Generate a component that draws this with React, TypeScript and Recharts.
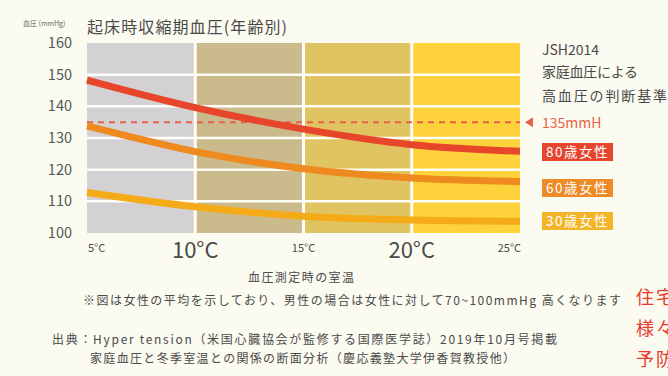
import { ComposedChart, Line, XAxis, YAxis, ReferenceArea, ReferenceLine } from "recharts";

const temps = [5, 10, 15, 20, 25];
const women80 = [148.3, 139.6, 132.8, 127.9, 125.8];
const women60 = [133.8, 125.7, 120.3, 117.4, 116.3];
const women30 = [112.8, 108.3, 105.3, 104.1, 103.7];
const yTicks = [100, 110, 120, 130, 140, 150, 160];
const gridValues = [110, 120, 130, 140, 150];
const bandEdges = [5, 10, 15, 20, 25];
const bandColors = ["#d3d1d3", "#cbbb8c", "#e0c462", "#fdd23b"];
const bigTemps = [10, 20];
const threshold = 135;
const seriesKeys = ["w80", "w60", "w30"];
const legendLabels = ["80歳女性", "60歳女性", "30歳女性"];
const lineColors = ["#e8462b", "#ef8a1f", "#f5ab17"];
const legendColors = ["#e5452d", "#ee8b27", "#f4b427"];

const data = temps.map((t, i) => ({ temp: t, w80: women80[i], w60: women60[i], w30: women30[i] }));

const FONT = "'Noto Sans CJK JP', 'Noto Sans', sans-serif";
const BG = "#fcfbf1";
const TEXT = "#4a4a4a";

function TempTick(props: any) {
  const { x, y, payload } = props;
  const v = payload.value;
  const big = bigTemps.includes(v);
  let anchor = "middle";
  if (v === temps[0]) anchor = "start";
  if (v === temps[temps.length - 1]) anchor = "end";
  return (
    <text
      x={anchor === "middle" ? x : x + 1}
      y={big ? y + 25 : y + 19}
      textAnchor={anchor}
      fontSize={big ? 22 : 11}
      fontFamily={FONT}
      fill={TEXT}
    >
      {v}°C
    </text>
  );
}

function ThresholdLabel(props: any) {
  const { viewBox } = props;
  const x = viewBox.x + viewBox.width;
  const y = viewBox.y;
  return (
    <g>
      <path d={`M ${x + 5} ${y} L ${x + 13} ${y - 5} L ${x + 13} ${y + 5} Z`} fill="#e8604a" />
      <text x={x + 22} y={y + 6} fontSize={14} fontFamily={FONT} fill="#e8604a">
        {threshold}mmH
      </text>
    </g>
  );
}

export default function App() {
  return (
    <div style={{ position: "absolute", left: 0, top: 0, width: 668, height: 376, background: BG, overflow: "hidden" }}>
      <ComposedChart width={668} height={376} data={data} margin={{ top: 43, right: 148, bottom: 103, left: 27 }}>
        <XAxis
          dataKey="temp"
          type="number"
          domain={[5, 25]}
          ticks={temps}
          axisLine={false}
          tickLine={false}
          tickSize={0}
          tickMargin={0}
          height={40}
          tick={<TempTick />}
        />
        <YAxis
          type="number"
          domain={[100, 160]}
          ticks={yTicks}
          axisLine={false}
          tickLine={false}
          width={60}
          tickMargin={9}
          tick={{ fontSize: 14.5, fill: "#555", fontFamily: FONT }}
        />
        {bandColors.map((c, i) => (
          <ReferenceArea key={i} x1={bandEdges[i]} x2={bandEdges[i + 1]} y1={100} y2={160} fill={c} fillOpacity={1} stroke="none" />
        ))}
        {gridValues.map((g) => (
          <ReferenceLine key={"h" + g} y={g} stroke="#fffef8" strokeWidth={2.5} />
        ))}
        {bandEdges.slice(1, -1).map((e) => (
          <ReferenceLine key={"v" + e} x={e} stroke="#fffef8" strokeWidth={3} />
        ))}
        <ReferenceLine y={threshold} stroke="#e8604a" strokeWidth={2} strokeDasharray="6 5" label={<ThresholdLabel />} />
        {seriesKeys
          .slice()
          .reverse()
          .map((k) => {
            const i = seriesKeys.indexOf(k);
            return (
              <Line
                key={k}
                dataKey={k}
                type="monotone"
                stroke={lineColors[i]}
                strokeWidth={7}
                dot={false}
                activeDot={false}
                isAnimationActive={false}
              />
            );
          })}
      </ComposedChart>
      <svg width={668} height={376} style={{ position: "absolute", left: 0, top: 0, pointerEvents: "none" }} fontFamily={FONT}>
        <text x={23} y={26} fontSize={7} fill="#666">血圧 (mmHg)</text>
        <text x={87} y={33} fontSize={16} fill={TEXT} textLength={200} lengthAdjust="spacing">起床時収縮期血圧(年齢別)</text>

        <text x={542} y={55} fontSize={14} fill={TEXT}>JSH2014</text>
        <text x={542} y={77} fontSize={14} fill={TEXT} textLength={96} lengthAdjust="spacing">家庭血圧による</text>
        <text x={542} y={101} fontSize={14} fill={TEXT} textLength={125} lengthAdjust="spacing">高血圧の判断基準</text>

        {legendLabels.map((l, i) => (
          <g key={l}>
            <rect x={542} y={[143, 179, 212][i]} width={71} height={18} fill={legendColors[i]} />
            <text x={577.5} y={[143, 179, 212][i] + 14} fontSize={13.5} fill="#fff" textAnchor="middle" letterSpacing={1.5}>
              {l}
            </text>
          </g>
        ))}

        <text x={301} y={282} fontSize={12} fill={TEXT} textAnchor="middle" textLength={106} lengthAdjust="spacing">血圧測定時の室温</text>
        <text x={83} y={305} fontSize={12} fill={TEXT} textLength={538} lengthAdjust="spacing">
          ※図は女性の平均を示しており、男性の場合は女性に対して70~100mmHg 高くなります
        </text>
        <text x={52} y={344} fontSize={12} fill={TEXT} textLength={505} lengthAdjust="spacing">
          出典：Hyper tension（米国心臓協会が監修する国際医学誌）2019年10月号掲載
        </text>
        <text x={90} y={363} fontSize={12} fill={TEXT} textLength={425} lengthAdjust="spacing">
          家庭血圧と冬季室温との関係の断面分析（慶応義塾大学伊香賀教授他）
        </text>

        <text x={636} y={304} fontSize={18} fill="#e8392a" letterSpacing={2}>住宅</text>
        <text x={636} y={335} fontSize={18} fill="#e8392a" letterSpacing={2}>様々</text>
        <text x={636} y={366} fontSize={18} fill="#e8392a" letterSpacing={2}>予防</text>
      </svg>
    </div>
  );
}
